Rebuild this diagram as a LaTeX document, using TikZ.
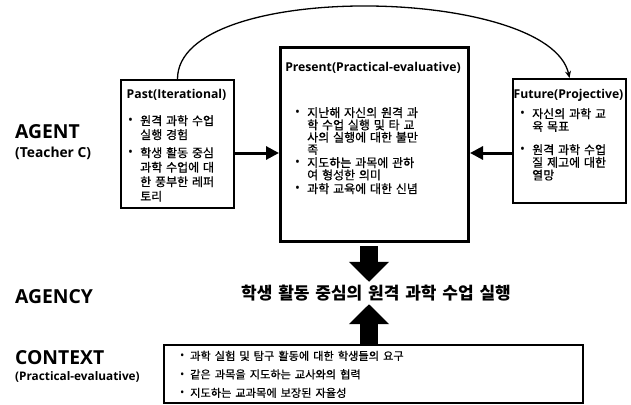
\documentclass[tikz,border=0pt]{standalone}
\usepackage{fontspec}
\setmainfont{Open Sans}
\newfontfamily\kr[RawFeature={embolden=0.6}]{Noto Sans CJK KR}
\newfontfamily\krb[WordSpace=1.5]{Noto Sans CJK KR}
\usetikzlibrary{arrows.meta,positioning,calc}

\newcommand{\lstfont}[1]{\kr\fontsize{12pt}{#1pt}\selectfont}
\newcommand{\dotb}{\makebox[12pt][l]{\raisebox{0.3pt}{\rmfamily\fontsize{13pt}{13pt}\selectfont\textbullet}}}
\newcommand{\dotc}{\makebox[10pt][l]{\raisebox{0.3pt}{\rmfamily\fontsize{11.5pt}{11.5pt}\selectfont\textbullet}}}
\newcommand{\indb}{\hspace*{12pt}}

\tikzset{
  frame/.style={draw, line width=2pt, inner sep=0pt, anchor=north west},
  ttl/.style={font=\bfseries\fontsize{12.2pt}{14pt}\selectfont, inner sep=0pt},
  lst/.style={align=left, inner sep=0pt, anchor=north west,
    execute at begin node={\spaceskip=3.8pt\relax}},
  side/.style={font=\bfseries\fontsize{19.3pt}{21pt}\selectfont, anchor=west, inner sep=0pt},
  sub/.style={font=\bfseries\fontsize{13.8pt}{15pt}\selectfont, anchor=west, inner sep=0pt},
  flow/.style={line width=3pt, -{Triangle[length=13pt,width=13pt]}},
  block/.style={line width=18pt, -{Triangle[length=20pt,width=39pt]}},
}

\begin{document}
\begin{tikzpicture}[x=1pt,y=-1pt]
\useasboundingbox (0,0) rectangle (631,404);

% the three time boxes
\node[frame, minimum width=113pt, minimum height=128pt] (past) at (120,79) {};
\node[frame, line width=3pt, minimum width=188pt, minimum height=194pt] (present) at (279,46) {};
\node[frame, minimum width=113pt, minimum height=124pt] (future) at (512,78) {};

% titles
\node[ttl] (pastttl) at (176.5,95) {Past(Iterational)};
\node[ttl] (presttl) at (373,68) {Present(Practical-evaluative)};
\node[ttl] (futttl) at (568.5,95) {Future(Projective)};

% past items
\node[lst, font=\lstfont{14}] (past1) at (128,115) {\dotb 원격 과학 수업\\\indb 실행 경험};
\node[lst, font=\lstfont{14.5}] (past2) at (128,147) {\dotb 학생 활동 중심\\\indb 과학 수업에 대\\\indb 한 풍부한 레퍼\\\indb 토리};

% present items
\node[lst, font=\lstfont{12.3}] (pres1) at (295,107) {\dotb 지난해 자신의 원격 과\\\indb 학 수업 실행 및 타 교\\\indb 사의 실행에 대한 불만\\\indb 족};
\node[lst, font=\lstfont{12.3}] (pres2) at (295,157) {\dotb 지도하는 과목에 관하\\\indb 여 형성한 의미};
\node[lst, font=\lstfont{13}] (pres3) at (295,183) {\dotb 과학 교육에 대한 신념};

% future items
\node[lst, font=\lstfont{12.7}] (fut1) at (520,108) {\dotb 자신의 과학 교\\\indb 육 목표};
\node[lst, font=\lstfont{12.7}] (fut2) at (520,144) {\dotb 원격 과학 수업\\\indb 질 제고에 대한\\\indb 열망};

% context box
\node[frame, minimum width=419pt, minimum height=58pt] (context) at (163,344) {};
\node[align=left, inner sep=0pt, anchor=north west,
  font=\kr\fontsize{11.2pt}{18.5pt}\selectfont,
  execute at begin node={\spaceskip=4pt\relax}] (ctxlist) at (180,350.5)
  {\dotc 과학 실험 및 탐구 활동에 대한 학생들의 요구\\
   \dotc 같은 과목을 지도하는 교사와의 협력\\
   \dotc 지도하는 교과목에 보장된 자율성};

% agency
\node[font=\krb\bfseries\fontsize{17pt}{19pt}\selectfont, inner sep=0pt,
  minimum height=22pt] (agency) at (376,293)
  {학생 활동 중심의 원격 과학 수업 실행};

% left labels
\node[side] (agent) at (15,132) {AGENT};
\node[sub] (teacher) at (15,153) {(Teacher C)};
\node[side] (agencylbl) at (15,297) {AGENCY};
\node[side] (ctxlbl) at (15,358) {CONTEXT};
\node[sub, font=\bfseries\fontsize{11.8pt}{14pt}\selectfont] (ctxsub) at (15,377) {(Practical-evaluative)};

% connectors
\coordinate (mid) at (0,153);
\coordinate (axis) at (369,0);
\draw[flow] (past.east |- mid) -- (present.west |- mid);
\draw[flow] (future.west |- mid) -- (present.east |- mid);
\draw[line width=1.3pt, -{Stealth[length=7pt,width=6pt]}] (past.north)
  .. controls ($(past.north)+(0,-100)$) and ($(future.north)+(-20,-92)$) .. (future.north);
\draw[block, shorten <=3pt] (axis |- present.south) -- (axis |- agency.north);
\draw[block] (axis |- context.north) -- (axis |- agency.south);
\end{tikzpicture}
\end{document}
